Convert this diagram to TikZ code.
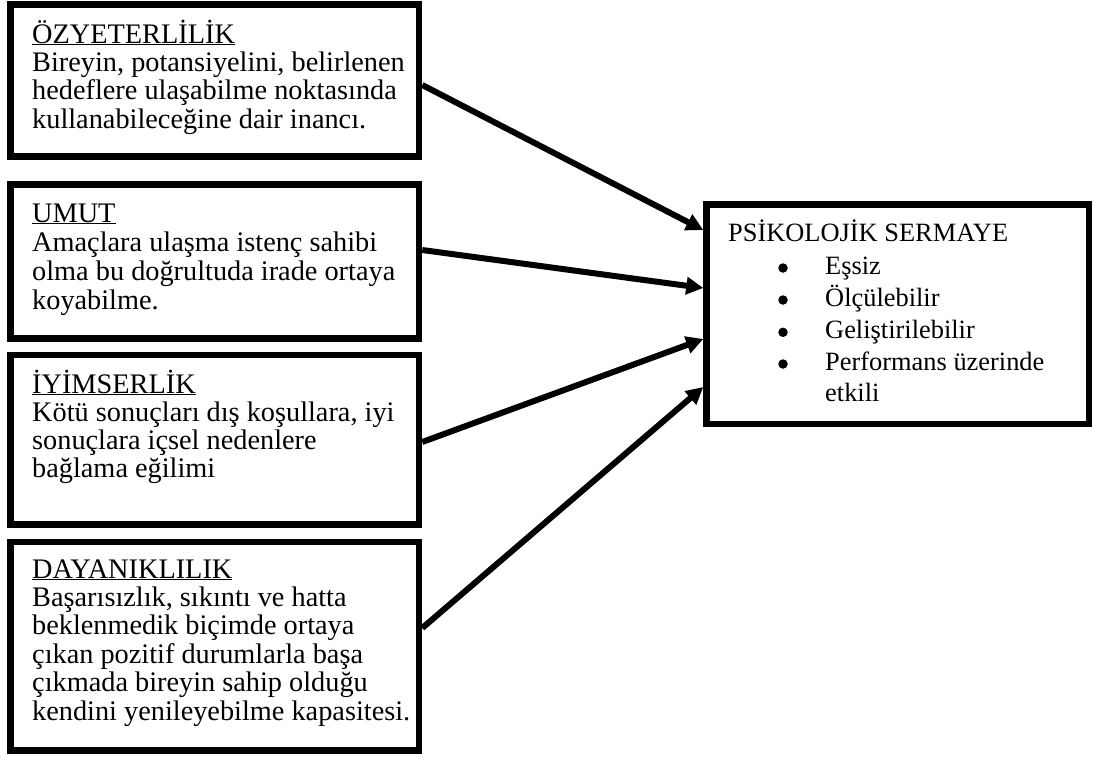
\documentclass[tikz,border=0pt]{standalone}
\usepackage{fontspec}
\setmainfont{Liberation Serif}
\usetikzlibrary{arrows.meta}

% a stack of lines whose baseline is that of its first line
\newcommand\linestack[2]{\vtop{\baselineskip=#1\lineskiplimit=-100pt\lineskip=0pt #2}}
\newcommand\heading[1]{\underline{#1}}

\begin{document}
\begin{tikzpicture}[x=1pt,y=-1pt,
  frame/.style={draw=black, line width=6.5pt, inner sep=0pt},
  link/.style={draw=black, line width=6pt, -{Triangle[length=17pt,width=17pt]}},
  body/.style={anchor=base west, inner sep=0pt, font=\fontsize{28.3pt}{28.4pt}\selectfont},
  side/.style={anchor=base west, inner sep=0pt, font=\fontsize{26.4pt}{32pt}\selectfont},
  dot/.style={circle, fill=black, inner sep=0pt, minimum size=9.5pt}]
\useasboundingbox (0,0) rectangle (1094,756);

% the four source boxes
\node[frame, minimum width=408.5pt, minimum height=152pt]   (b1) at (214.75,80.5)   {};
\node[frame, minimum width=408.5pt, minimum height=154pt]   (b2) at (214.75,261.5)  {};
\node[frame, minimum width=408.5pt, minimum height=169.5pt] (b3) at (214.75,439.75) {};
\node[frame, minimum width=408.5pt, minimum height=208.5pt] (b4) at (214.75,646.25) {};

% the target box
\node[frame, minimum width=382.5pt, minimum height=219.5pt] (ps) at (897.75,314.25) {};

% texts of the source boxes
\node[body] (t1) at (32,43) {\linestack{28.4pt}{%
  \hbox{\heading{ÖZYETERLİLİK}}
  \hbox{Bireyin, potansiyelini, belirlenen}
  \hbox{hedeflere ulaşabilme noktasında}
  \hbox{kullanabileceğine dair inancı.}}};
\node[body] (t2) at (32,222) {\linestack{29.2pt}{%
  \hbox{\heading{UMUT}}
  \hbox{Amaçlara ulaşma istenç sahibi}
  \hbox{olma bu doğrultuda irade ortaya}
  \hbox{koyabilme.}}};
\node[body] (t3) at (32,393) {\linestack{28pt}{%
  \hbox{\heading{İYİMSERLİK}}
  \hbox{Kötü sonuçları dış koşullara, iyi}
  \hbox{sonuçlara içsel nedenlere}
  \hbox{bağlama eğilimi}}};
\node[body] (t4) at (32,578) {\linestack{28.4pt}{%
  \hbox{\heading{DAYANIKLILIK}}
  \hbox{Başarısızlık, sıkıntı ve hatta}
  \hbox{beklenmedik biçimde ortaya}
  \hbox{çıkan pozitif durumlarla başa}
  \hbox{çıkmada bireyin sahip olduğu}
  \hbox{kendini yenileyebilme kapasitesi.}}};

% text of the target box
\node[side] (pt) at (728,241.7) {PSİKOLOJİK SERMAYE};
\node[dot]  (d1) at (783,268)   {};
\node[side] (i1) at (825,274)   {Eşsiz};
\node[dot]  (d2) at (783,300)   {};
\node[side] (i2) at (825,306)   {Ölçülebilir};
\node[dot]  (d3) at (783,332.3) {};
\node[side] (i3) at (825,338.3) {Geliştirilebilir};
\node[dot]  (d4) at (783,364)   {};
\node[side] (i4) at (825,370)   {\linestack{31pt}{%
  \hbox{Performans üzerinde}
  \hbox{etkili}}};

% connectors
\draw[link] ([yshift=-4.5pt]b1.east)   -- ([yshift=84.25pt]ps.west);
\draw[link] ([yshift=11.5pt]b2.east)   -- ([yshift=26.25pt]ps.west);
\draw[link] ([yshift=-2.25pt]b3.east)  -- ([yshift=-24.75pt]ps.west);
\draw[link] ([yshift=18.25pt]b4.east)  -- ([yshift=-72.75pt]ps.west);
\end{tikzpicture}
\end{document}
